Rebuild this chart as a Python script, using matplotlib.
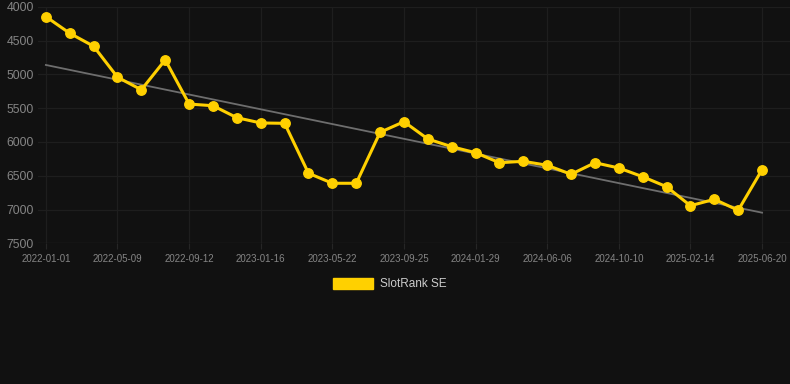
import matplotlib.pyplot as plt

# ── Data ─────────────────────────────────────────────────────
dates = [
    "2022-01-01", "", "", "2022-05-09", "", "", "2022-09-12", "", "",
    "2023-01-16", "", "", "2023-05-22", "", "", "2023-09-25", "", "",
    "2024-01-29", "", "", "2024-06-06", "", "", "2024-10-10", "", "",
    "2025-02-14", "", "", "2025-06-20",
]
rank = [
    4147, 4393, 4585, 5043, 5229, 4786, 5440, 5465, 5642, 5720,
    5725, 6464, 6612, 6612, 5858, 5701, 5957, 6071, 6160, 6308,
    6287, 6346, 6479, 6308, 6386, 6515, 6663, 6944, 6849, 7012,
    6411,
]
trend_start = 4862
trend_end = 7047
y_ticks = [4000, 4500, 5000, 5500, 6000, 6500, 7000, 7500]

# ── Style ────────────────────────────────────────────────────
bg = "#111111"
yellow = "#FFD000"
plt.rcParams["font.family"] = ["Liberation Sans", "DejaVu Sans"]

fig = plt.figure(figsize=(7.9, 3.84), dpi=100, facecolor=bg)
ax = fig.add_axes([38 / 790, 1 - 243.3 / 384, 1 - 38 / 790, (243.3 - 6.7) / 384])
ax.set_facecolor(bg)

x = list(range(len(rank)))
ax.plot([x[0], x[-1]], [trend_start, trend_end], color="#6e6e6e", lw=1.3, zorder=2)
ax.plot(x, rank, color=yellow, lw=2.2, marker="o", ms=6.8, zorder=3, label="SlotRank SE")

ax.set_ylim(7500, 4000)
ax.set_xlim(-0.33, 31.17)
ax.set_yticks(y_ticks)
ax.set_yticklabels([str(v) for v in y_ticks])
tick_pos = [i for i, d in enumerate(dates) if d]
ax.set_xticks(tick_pos)
ax.set_xticklabels([dates[i] for i in tick_pos])

ax.grid(True, color="#1e1e1e", lw=0.9)
ax.set_axisbelow(True)
for s in ax.spines.values():
    s.set_visible(False)
ax.axhline(7500, color="#262626", lw=0.9, zorder=1)
ax.tick_params(axis="y", length=0, colors="#858585", labelsize=8.8, pad=3)
ax.tick_params(axis="x", length=4, color="#262626", colors="#858585", labelsize=7, pad=4)

leg = fig.legend(
    handles=[plt.Rectangle((0, 0), 1, 1, color=yellow)],
    labels=["SlotRank SE"],
    loc="center", bbox_to_anchor=(390 / 790, 1 - 284 / 384),
    frameon=False, handlelength=3.4, handleheight=1.1, handletextpad=0.6,
    fontsize=8.5, labelcolor="#cccccc",
)

fig.savefig("out.png", dpi=100, facecolor=bg)
